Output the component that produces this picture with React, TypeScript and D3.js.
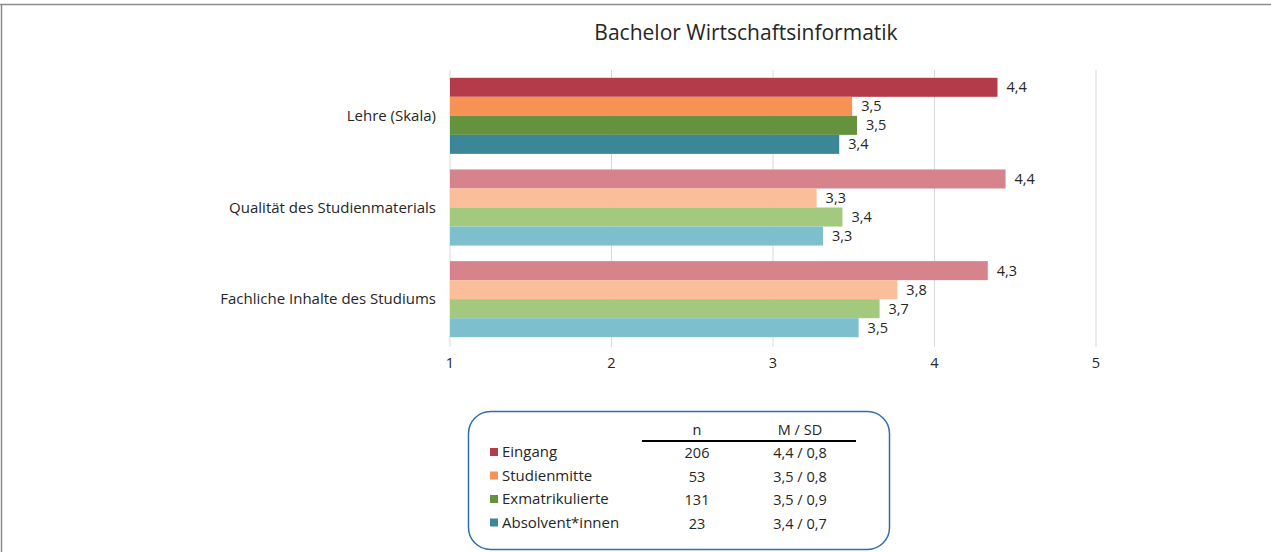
import React from "react";
import * as d3 from "d3";

const categories = ["Lehre (Skala)", "Qualität des Studienmaterials", "Fachliche Inhalte des Studiums"];
const seriesNames = ["Eingang", "Studienmitte", "Exmatrikulierte", "Absolvent*innen"];
const eingang = [4.39, 4.44, 4.33];
const studienmitte = [3.49, 3.27, 3.77];
const exmatrikulierte = [3.52, 3.43, 3.66];
const absolventen = [3.41, 3.31, 3.53];
const xTicks = [1, 2, 3, 4, 5];
const legendN = ["206", "53", "131", "23"];
const legendMSD = ["4,4 / 0,8", "3,5 / 0,8", "3,5 / 0,9", "3,4 / 0,7"];

const darkColors = ["#B33B4A", "#F79256", "#64923D", "#3B8797"];
const lightColors = ["#D6838B", "#FBBE9A", "#A3C97E", "#7DBFCC"];

const W = 1271;
const H = 552;
const FONT = "'Open Sans', 'Noto Sans', sans-serif";
const FS = 14.5;
const FS_L = 15;

export default function App() {
  const values = [eingang, studienmitte, exmatrikulierte, absolventen];
  const x = d3.scaleLinear().domain([1, 5]).range([450, 1096]);
  const y0 = d3.scaleBand<string>().domain(categories).range([70, 345]).paddingInner(0.17).paddingOuter(0.085);
  const y1 = d3.scaleBand<string>().domain(seriesNames).range([0, y0.bandwidth()]);
  const fmt = (v: number) => d3.format(".1f")(v).replace(".", ",");

  return (
    <svg width={W} height={H} style={{ position: "absolute", left: 0, top: 0, fontFamily: FONT }}>
      <rect x={0} y={0} width={W} height={H} fill="#fff" />
      <line x1={0} x2={W} y1={4.5} y2={4.5} stroke="#8c8c8c" strokeWidth={1.5} />
      <line x1={1.5} x2={1.5} y1={4} y2={H} stroke="#8c8c8c" strokeWidth={1.5} />
      <text x={746} y={40} textAnchor="middle" fontSize={21} fill="#262626">Bachelor Wirtschaftsinformatik</text>
      {xTicks.map((t) => (
        <g key={t}>
          <line x1={x(t)} x2={x(t)} y1={70} y2={347} stroke="#d9d9d9" strokeWidth={1} />
          <text x={x(t)} y={368} textAnchor="middle" fontSize={FS} fill="#262626">{t}</text>
        </g>
      ))}
      {categories.map((c, ci) => (
        <g key={c}>
          <text x={436} y={(y0(c) as number) + y0.bandwidth() / 2 + 5} textAnchor="end" fontSize={FS_L} fill="#262626">{c}</text>
          {seriesNames.map((s, si) => {
            const v = values[si][ci];
            const yy = (y0(c) as number) + (y1(s) as number);
            return (
              <g key={s}>
                <rect x={x(1)} y={yy} width={x(v) - x(1)} height={y1.bandwidth()} fill={ci === 0 ? darkColors[si] : lightColors[si]} />
                <text x={x(v) + 9} y={yy + y1.bandwidth() / 2 + 5} fontSize={FS} fill="#262626">{fmt(v)}</text>
              </g>
            );
          })}
        </g>
      ))}
      <rect x={468.5} y={411.5} width={421} height={138} rx={22} ry={22} fill="#fff" stroke="#2E6DB4" strokeWidth={1.5} />
      <text x={697} y={435} textAnchor="middle" fontSize={FS} fill="#262626">n</text>
      <text x={800} y={435} textAnchor="middle" fontSize={FS} fill="#262626">M / SD</text>
      <line x1={642} x2={856} y1={441} y2={441} stroke="#000" strokeWidth={2} />
      {seriesNames.map((s, si) => {
        const ry = 458 + si * 23.5;
        return (
          <g key={s}>
            <rect x={490} y={ry - 10} width={8} height={8} fill={darkColors[si]} />
            <text x={502} y={ry - 1} fontSize={FS_L} fill="#262626">{s}</text>
            <text x={697} y={ry} textAnchor="middle" fontSize={FS} fill="#262626">{legendN[si]}</text>
            <text x={800} y={ry} textAnchor="middle" fontSize={FS} fill="#262626">{legendMSD[si]}</text>
          </g>
        );
      })}
    </svg>
  );
}
